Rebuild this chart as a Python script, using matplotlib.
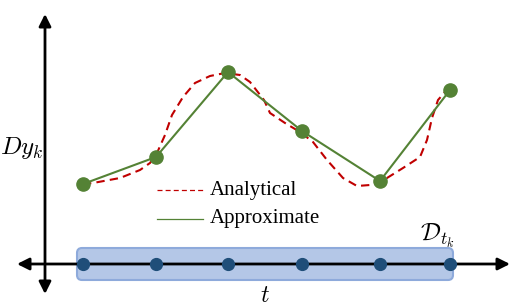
import numpy as np
import matplotlib
matplotlib.use('Agg')
import matplotlib.pyplot as plt
from matplotlib.patches import FancyBboxPatch

plt.rcParams['font.family'] = 'Liberation Serif'
plt.rcParams['mathtext.fontset'] = 'cm'

# sample times and approximate values (green)
t_pts = [38, 111, 183, 257, 335, 405]
dy_approx = [80, 107, 192, 133, 83, 174]

# analytical curve (red dashed)
t_exact = [38, 48, 75, 95, 105, 112, 120, 127, 138, 150, 165, 180, 195, 205,
           219, 225, 240, 255, 268, 282, 298, 312, 325, 342, 358, 375, 382,
           387, 393, 400, 405]
dy_exact = [80, 81, 86, 94, 101, 111, 129, 149, 167, 181, 188, 191, 189, 182,
            164, 151, 141, 132, 122, 104, 86, 78, 79, 86, 96, 107, 124,
            146, 164, 172, 174]

green = '#548235'
red = '#c00000'
dark_blue = '#1f4e79'

fig = plt.figure(figsize=(5.24, 3.08), dpi=100)
ax = fig.add_axes([0, 0, 1, 1])
ax.set_xlim(-45, 479)
ax.set_ylim(-44, 264)
ax.axis('off')

# domain box
box = FancyBboxPatch((32, -16), 376, 32, boxstyle='round,pad=0,rounding_size=5',
                     facecolor='#b4c7e7', edgecolor='#8eaadb', lw=1.5, zorder=1)
ax.add_patch(box)

# axes arrows
arr = dict(arrowstyle='<|-|>', lw=2, color='k', mutation_scale=18,
           shrinkA=0, shrinkB=0)
ax.annotate('', xy=(0, 250), xytext=(0, -30), arrowprops=arr, zorder=2)
ax.annotate('', xy=(465, 0), xytext=(-28, 0), arrowprops=arr, zorder=2)

ax.plot(t_pts, [0] * len(t_pts), 'o', color=dark_blue, ms=8.5, zorder=3)

# curves
ax.plot(t_exact, dy_exact, color=red, lw=1.5, dashes=(4, 2.5), zorder=3)
ax.plot(t_pts, dy_approx, '-o', color=green, lw=1.5, ms=9.5, zorder=4)

# legend
ax.plot([112, 158], [74, 74], color=red, lw=0.9, dashes=(4, 2.5))
ax.plot([112, 158], [45, 45], color=green, lw=0.9)
ax.text(165, 74, 'Analytical', fontsize=15, va='center')
ax.text(165, 45, 'Approximate', fontsize=15, va='center')

# labels
ax.text(-23, 116, r'$Dy_k$', fontsize=18, ha='center', va='center')
ax.text(220, -33, r'$t$', fontsize=17, ha='center', va='center')
ax.text(392, 28, r'$\mathcal{D}_{t_k}$', fontsize=18, ha='center', va='center')

fig.savefig('out.png', dpi=100)
